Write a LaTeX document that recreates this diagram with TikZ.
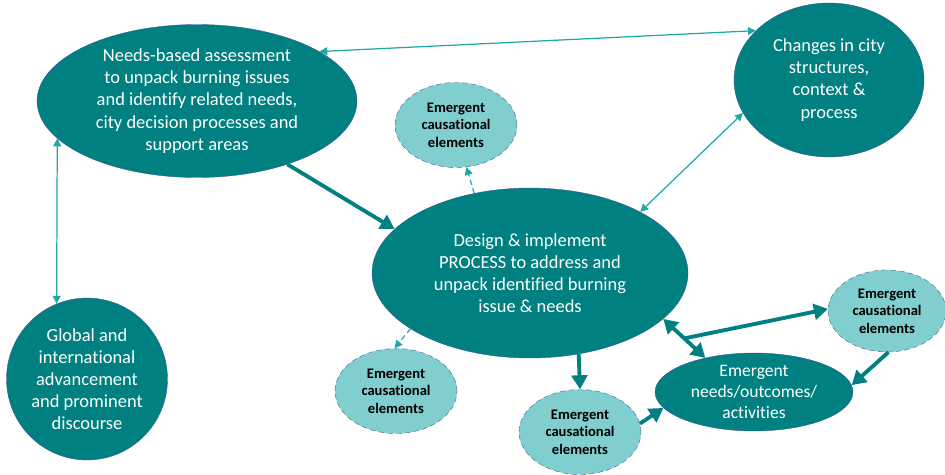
\documentclass[tikz,border=0pt]{standalone}
\usepackage{fontspec}
\setmainfont{Carlito}[Ligatures=NoCommon]
\usetikzlibrary{shapes.geometric,arrows.meta,calc}
\definecolor{tealdark}{RGB}{0,128,128}
\definecolor{teallight}{RGB}{128,206,206}
\definecolor{tealline}{RGB}{30,168,168}
\definecolor{rimblue}{RGB}{60,80,150}
\begin{document}
\begin{tikzpicture}[x=0.02cm,y=-0.02cm]
                \tikzstyle{bignode}=[ellipse,draw=rimblue,very thin,fill=tealdark,text=white,align=center,inner sep=0pt,font=\fontsize{10.5}{12.6}\selectfont]
                \tikzstyle{causenode}=[ellipse,draw=rimblue,densely dashed,very thin,fill=teallight,align=center,inner sep=0pt,minimum width=2.44cm,minimum height=1.7cm,font=\fontsize{8.3}{10}\selectfont\bfseries]
                \tikzstyle{thinlink}=[tealline,line width=0.7pt,{Triangle[length=4.5pt,width=4.5pt]}-{Triangle[length=4.5pt,width=4.5pt]}]
                \tikzstyle{dashlink}=[tealline,line width=0.7pt,densely dashed,-{Triangle[length=4.5pt,width=4.5pt]}]
                \tikzstyle{thicklink}=[tealdark,line width=2.2pt,-{Triangle[length=8pt,width=9pt]}]
                \useasboundingbox (0,0) rectangle (945,474);
                \begin{scope}
                    \node[bignode,minimum width=6.4cm,minimum height=3.06cm] (needs) at (197,101)
                        {Needs-based assessment\\to unpack burning issues\\and identify related needs,\\city decision processes and\\support areas};
                    \node[bignode,minimum width=3.8cm,minimum height=3.08cm] (changes) at (829,80)
                        {Changes in city\\structures,\\context \&\\process};
                    \node[bignode,minimum width=3.22cm,minimum height=3.24cm] (global) at (87,379)
                        {Global and\\international\\advancement\\and prominent\\discourse};
                    \node[bignode,minimum width=6.32cm,minimum height=3.4cm] (design) at (530,273)
                        {Design \& implement\\PROCESS to address and\\unpack identified burning\\issue \& needs};
                    \node[bignode,inner ysep=-9pt,minimum width=3.96cm,minimum height=1.56cm,font=\fontsize{10}{12}\selectfont] (outcomes) at (754,392)
                        {Emergent\\needs/outcomes/\\activities};
                \end{scope}
                \begin{scope}
                    \node[causenode] (causetop) at (456,125) {Emergent\\causational\\elements};
                    \node[causenode] (causeleft) at (396,391) {Emergent\\causational\\elements};
                    \node[causenode] (causemid) at (580,432) {Emergent\\causational\\elements};
                    \node[causenode,minimum width=2.36cm,minimum height=1.64cm] (causeright) at (887,311) {Emergent\\causational\\elements};
                \end{scope}
                % thin two-way links
                \draw[thinlink] (needs.22) -- (changes.146);
                \draw[thinlink] (needs.195) -- (global.112);
                \draw[thinlink] (design.29) -- (changes.201);
                % dashed links
                \draw[dashlink] (design.125) -- (causetop.284);
                \draw[dashlink] (design.205) -- (causeleft.92);
                % thick links
                \draw[thicklink] (needs.325) -- (design.162);
                \draw[thicklink] (design.301) -- (causemid.90);
                \draw[thicklink] (causemid.8) -- (outcomes.190);
                \draw[thicklink] (causeright.272) -- (outcomes.4);
                \draw[thicklink,{Triangle[length=8pt,width=9pt]}-{Triangle[length=8pt,width=9pt]}] (design.341) -- (outcomes.145);
                \coordinate (split) at ($(design.341)!0.5!(outcomes.145)$);
                \draw[thicklink] (split) -- (causeright.178);
\end{tikzpicture}
\end{document}
